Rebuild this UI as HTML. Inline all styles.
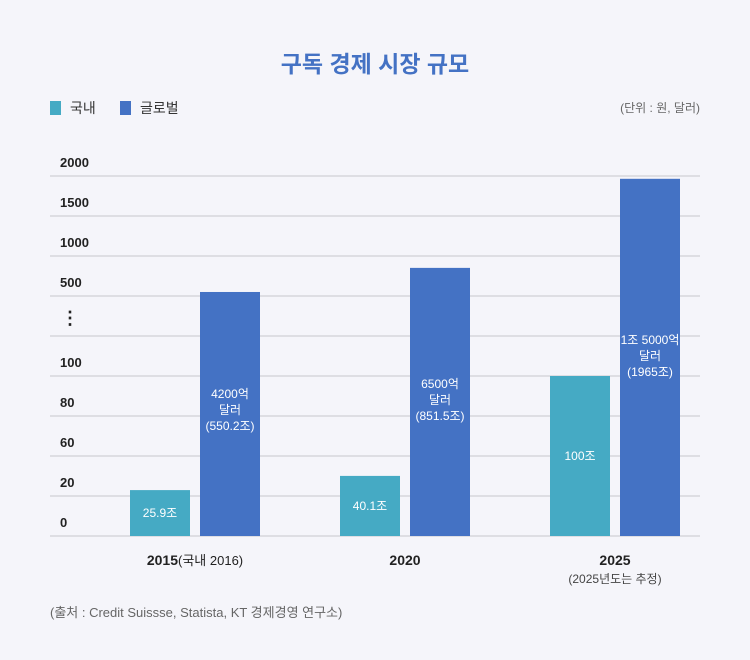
<!DOCTYPE html>
<html><head><meta charset="utf-8">
<style>
body{margin:0;background:#f5f5fa;font-family:"Liberation Sans","Noto Sans CJK KR",sans-serif;}
#wrap{position:relative;width:750px;height:660px;overflow:hidden;}
</style></head>
<body>
<div id="wrap">
<svg id="chart" width="750" height="660" style="font-family:'Liberation Sans','Noto Sans CJK KR',sans-serif"></svg>
</div>
<script>
const categories=["2015","2020","2025"];
const domestic=[25.9,40.1,100];
const globalV=[550.2,851.5,1965];
const domesticLabels=[["25.9조"],["40.1조"],["100조"]];
const globalLabels=[["4200억","달러","(550.2조)"],["6500억","달러","(851.5조)"],["1조 5000억","달러","(1965조)"]];
const tickValues=[0,20,60,80,100,null,500,1000,1500,2000];
const tickLabels=["0","20","60","80","100","⋮","500","1000","1500","2000"];
// piecewise scale (broken axis) anchors
const scaleVals=[0,20,60,80,100,500,1000,1500,2000];
const NS="http://www.w3.org/2000/svg";
const svg=document.getElementById('chart');
const base=536,step=40;
function tickY(i){return base-i*step;}
const anchorY=[536,496,456,416,376,296,256,216,176];
function y(v){
  for(let i=1;i<scaleVals.length;i++){
    if(v<=scaleVals[i]){const t=(v-scaleVals[i-1])/(scaleVals[i]-scaleVals[i-1]);return anchorY[i-1]+t*(anchorY[i]-anchorY[i-1]);}
  }
  return anchorY[anchorY.length-1];
}
function x(i){return 130+i*210;}
function el(tag,attrs,txt){const e=document.createElementNS(NS,tag);for(const k in attrs)e.setAttribute(k,attrs[k]);if(txt!=null)e.textContent=txt;svg.appendChild(e);return e;}
let t;
t=el('text',{x:375,y:72,'text-anchor':'middle','font-size':23,'font-weight':'bold',fill:'#4472c4'},'구독 경제 시장 규모');


t=el('rect',{x:50,y:101,width:11,height:14,fill:'#45aac4'});


t=el('text',{x:70,y:113,'font-size':14,fill:'#333'},'국내');


t=el('rect',{x:120,y:101,width:11,height:14,fill:'#4472c4'});


t=el('text',{x:140,y:113,'font-size':14,fill:'#333'},'글로벌');


t=el('text',{x:700,y:112,'text-anchor':'end','font-size':12,fill:'#666'},'(단위 : 원, 달러)');


tickLabels.forEach((lab,i)=>{
  const g=el('line',{x1:50,x2:700,y1:tickY(i),y2:tickY(i),stroke:'#c8c8cc','stroke-width':1});
  
  
  const tl=el('text',{x:lab==='⋮'?70:60,y:tickY(i)-9,'font-size':lab==='⋮'?18:13,'font-weight':'bold','text-anchor':lab==='⋮'?'middle':'start',fill:'#222'},lab);
  if(lab==='⋮'){tl.setAttribute('y',tickY(i)-12);}
  
  
});
function labelLines(lines,cx,cy,name){
  const lh=16,start=cy-(lines.length-1)*lh/2;
  lines.forEach((s,k)=>{
    const e=el('text',{x:cx,y:start+k*lh+4,'text-anchor':'middle','font-size':12,fill:'#fff'},s);
    
    
  });
}
categories.forEach((c,i)=>{
  const yd=y(domestic[i]);
  const b1=el('rect',{x:x(i),y:yd,width:60,height:base-yd,fill:'#45aac4'});
  
  
  labelLines(domesticLabels[i],x(i)+30,(yd+base)/2,'bar-value-domestic');
  const yg=y(globalV[i]);
  const b2=el('rect',{x:x(i)+70,y:yg,width:60,height:base-yg,fill:'#4472c4'});
  
  
  labelLines(globalLabels[i],x(i)+100,i===2?356:i===1?400:410,'bar-value-global');
});
const xl=el('text',{x:195,y:565,'text-anchor':'middle','font-size':14,fill:'#222'});
xl.innerHTML='<tspan font-weight="bold">2015</tspan><tspan font-size="13">(국내 2016)</tspan>';


t=el('text',{x:405,y:565,'text-anchor':'middle','font-size':14,'font-weight':'bold',fill:'#222'},'2020');


t=el('text',{x:615,y:565,'text-anchor':'middle','font-size':14,'font-weight':'bold',fill:'#222'},'2025');


t=el('text',{x:615,y:583,'text-anchor':'middle','font-size':12,fill:'#444'},'(2025년도는 추정)');


t=el('text',{x:50,y:617,'font-size':13,fill:'#666'},'(출처 : Credit Suissse, Statista, KT 경제경영 연구소)');


</script>
</body></html>
